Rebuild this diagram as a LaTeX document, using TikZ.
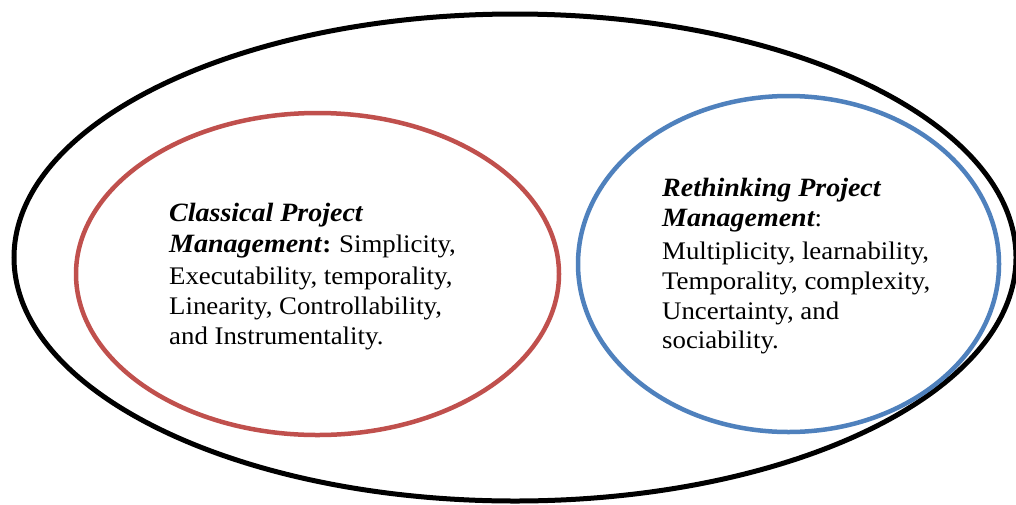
\documentclass[tikz,border=0pt]{standalone}
\usepackage{fontspec}
\setmainfont{Liberation Serif}[FakeStretch=1.06]
\usetikzlibrary{shapes.geometric}
\definecolor{ringred}{HTML}{C0504D}
\definecolor{ringblue}{HTML}{4F81BD}
\newcommand\headtxt[1]{{\fontsize{26.4}{30}\selectfont\bfseries\itshape #1}}
\tikzset{
  ring/.style={ellipse, draw, inner sep=0pt, line width=4.5pt},
  label/.style={anchor=base west, inner sep=0pt, align=left, font=\fontsize{25.3}{30}\selectfont},
}
\begin{document}
\begin{tikzpicture}[x=1pt, y=-1pt]
\useasboundingbox (0,0) rectangle (1016,504);
\fill[white] (0,0) rectangle (1016,504);
\node[ring, line width=5pt, minimum width=1002pt, minimum height=487pt] (outer) at (515,257.5) {};
\node[ring, draw=ringred, minimum width=483pt, minimum height=322pt] (classical) at (317.5,274) {};
\node[ring, draw=ringblue, minimum width=421pt, minimum height=336pt] (rethink) at (788.5,264) {};
\node[label] (classicaltext) at (169,344) {\headtxt{Classical Project}\\[1pt]
\headtxt{Management}\textbf{:}\hspace{-1pt} Simplicity,\\[2pt]
Executability, temporality,\\
Linearity, Controllability,\\
and Instrumentality.};
\node[label] (rethinktext) at (662,348) {\headtxt{Rethinking Project}\\
\headtxt{Management}:\\[3pt]
Multiplicity, learnability,\\
Temporality, complexity,\\
Uncertainty, and\\[-1pt]
sociability.};
\end{tikzpicture}
\end{document}
